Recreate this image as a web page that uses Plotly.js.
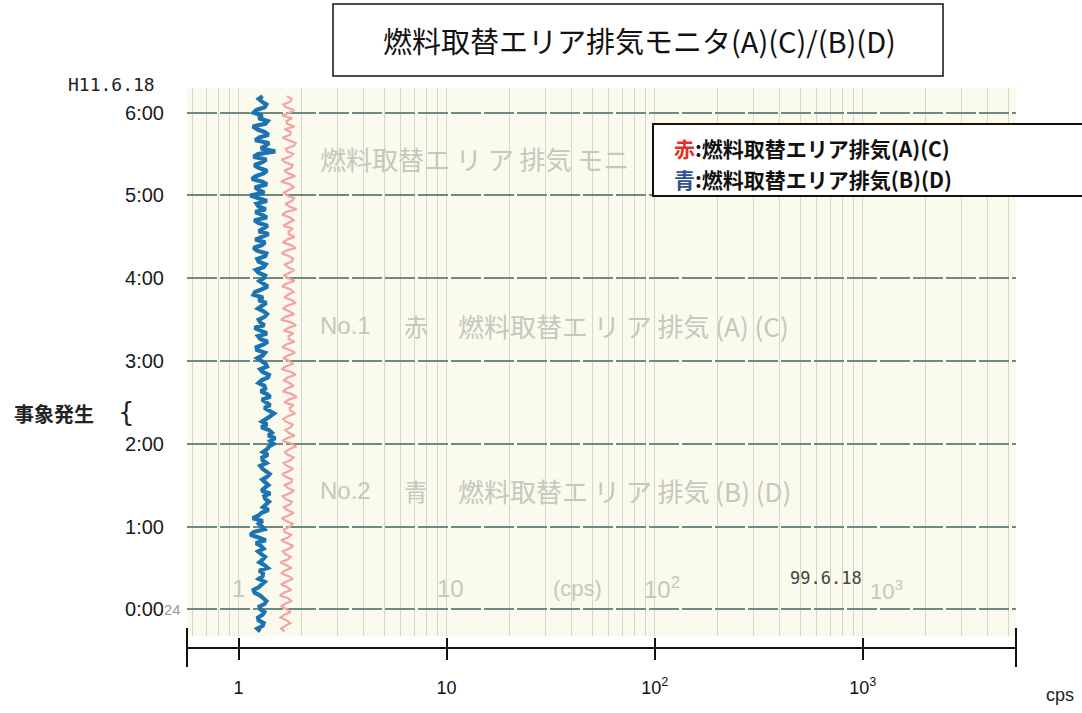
<!DOCTYPE html>
<html>
<head>
<meta charset="utf-8">
<script src="https://cdn.plot.ly/plotly-3.0.1.min.js"></script>
<style>
html,body{margin:0;padding:0;background:#fff;}
#chart{width:1082px;height:713px;}
</style>
</head>
<body>
<div id="chart"></div>
<script>
// ---- data (time in minutes after 0:00 on H11.6.18, count rate in cps) ----
const minutes = [372,370,368,366,364,362,360,358,356,354,352,350,348,346,344,342,340,338,336,334,332,330,328,326,324,322,320,318,316,314,312,310,
  308,306,304,302,300,298,296,294,292,290,288,286,284,282,280,278,276,274,272,270,268,266,264,262,260,258,256,254,252,250,248,246,244,242,
  240,238,236,234,232,230,228,226,224,222,220,218,216,214,212,210,208,206,204,202,200,198,196,194,192,190,188,186,184,182,180,178,176,174,
  172,170,168,166,164,162,160,158,156,154,152,150,148,146,144,142,140,138,136,134,132,130,128,126,124,122,120,118,116,114,112,110,
  108,106,104,102,100,98,96,94,92,90,88,86,84,82,80,78,76,74,72,70,68,66,64,62,60,58,56,54,52,50,48,46,44,42,40,38,36,34,32,30,
  28,26,24,22,20,18,16,14,12,10,8,6,4,2,0,-2,-4,-6,-8,-10,-12,-14,-16];

const blueCps = [1.305,1.25,1.295,1.36,1.334,1.22,1.181,1.30,1.248,1.38,1.344,1.17,1.226,1.33,1.394,1.26,1.203,1.40,1.344,1.28,1.501,1.24,1.181,1.36,1.295,1.19,1.248,1.37,1.319,1.21,1.159,1.30,
  1.369,1.20,1.248,1.33,1.138,1.27,1.369,1.22,1.248,1.35,1.203,1.30,1.369,1.19,1.248,1.38,1.319,1.25,1.394,1.29,1.203,1.34,1.295,1.18,1.226,1.36,1.344,1.23,1.248,1.35,1.319,1.21,1.248,1.34,
  1.319,1.26,1.334,1.38,1.295,1.20,1.181,1.31,1.248,1.36,1.295,1.24,1.319,1.37,1.334,1.25,1.271,1.33,1.194,1.28,1.369,1.24,1.271,1.38,1.319,1.22,1.226,1.34,1.305,1.23,1.286,1.35,1.369,1.27,
  1.305,1.40,1.384,1.29,1.248,1.33,1.344,1.28,1.369,1.42,1.295,1.36,1.420,1.33,1.420,1.48,1.420,1.34,1.295,1.37,1.286,1.40,1.447,1.39,1.501,1.42,1.474,1.40,1.369,1.31,1.384,1.30,
  1.305,1.36,1.271,1.30,1.344,1.41,1.369,1.30,1.344,1.39,1.334,1.29,1.420,1.33,1.344,1.40,1.354,1.31,1.394,1.29,1.248,1.17,1.305,1.25,1.295,1.33,1.181,1.14,1.248,1.35,1.212,1.28,1.319,1.24,1.286,1.34,1.305,1.26,1.334,1.38,
  1.257,1.31,1.305,1.25,1.334,1.29,1.248,1.18,1.194,1.27,1.305,1.36,1.334,1.26,1.271,1.33,1.305,1.24,1.248,1.32,1.305,1.23,1.271];

const redCps = [1.708,1.80,1.772,1.64,1.689,1.85,1.753,1.62,1.805,1.70,1.708,1.86,1.664,1.78,1.772,1.63,1.740,1.88,1.838,1.69,1.708,1.83,1.759,1.61,1.677,1.82,1.792,1.66,1.727,1.87,1.702,1.60,
  1.778,1.84,1.740,1.65,1.714,1.85,1.805,1.68,1.753,1.90,1.689,1.62,1.772,1.84,1.727,1.64,1.825,1.74,1.740,1.86,1.708,1.63,1.785,1.88,1.695,1.61,1.753,1.83,1.798,1.67,1.721,1.85,1.759,1.65,
  1.740,1.86,1.689,1.62,1.772,1.84,1.727,1.66,1.805,1.88,1.708,1.63,1.753,1.85,1.677,1.60,1.785,1.89,1.727,1.65,1.838,1.74,1.740,1.86,1.695,1.62,1.772,1.87,1.727,1.64,1.753,1.83,1.677,1.61,
  1.792,1.88,1.721,1.65,1.759,1.84,1.708,1.63,1.805,1.90,1.740,1.66,1.838,1.76,1.772,1.87,1.727,1.64,1.689,1.82,1.785,1.68,1.740,1.86,1.708,1.62,1.805,1.88,1.753,1.67,1.727,1.84,
  1.772,1.65,1.708,1.83,1.740,1.62,1.689,1.81,1.792,1.66,1.727,1.85,1.753,1.63,1.677,1.80,1.772,1.64,1.714,1.84,1.740,1.61,1.695,1.82,1.772,1.65,1.664,1.79,1.727,1.60,1.708,1.83,1.753,1.63,1.677,1.78,1.721,1.59,1.695,1.80,
  1.664,1.61,1.740,1.82,1.689,1.60,1.714,1.79,1.646,1.58,1.727,1.80,1.677,1.60,1.708,1.78,1.658,1.59,1.702,1.77,1.677,1.60,1.664];

const gridCps = [0.6,0.7,0.8,0.9,1,2,3,4,5,6,7,8,9,10,20,30,40,50,60,70,80,90,100,200,300,400,500,600,700,800,900,1000,2000,3000,4000,5000];
const xTickVals = [1,10,100,1000];
const xTickText = ['1','10','10<sup>2</sup>','10<sup>3</sup>'];
const yTickVals = [0,60,120,180,240,300,360];
const yTickText = ['0:00','1:00','2:00','3:00','4:00','5:00','6:00'];

const titleText = '燃料取替エリア排気モニタ(A)(C)/(B)(D)';
const legendRed = '燃料取替エリア排気(A)(C)';
const legendBlue = '燃料取替エリア排気(B)(D)';

// ---- layout helpers (pixel -> paper fraction) ----
const L = 187, R = 1016, T = 88, B = 648;
const px = x => (x - L) / (R - L);
const py = y => (B - y) / (B - T);

const xRange = [-0.248, 3.737];
const CJK = 'Noto Sans CJK JP, sans-serif';
const SANS = 'Liberation Sans, Arial, sans-serif';
const ghost = '#c6c7bd';

const traces = [
  {x: redCps, y: minutes, type: 'scatter', mode: 'lines', xaxis: 'x', yaxis: 'y',
   line: {color: '#f4a2a4', width: 2.2}, hoverinfo: 'skip'},
  {x: blueCps, y: minutes, type: 'scatter', mode: 'lines', xaxis: 'x', yaxis: 'y',
   line: {color: '#1b73b2', width: 4.2}, hoverinfo: 'skip'},
  // invisible carriers so the scale axes are drawn
  {x: xTickVals, y: [0,0,0,0], type: 'scatter', mode: 'markers', xaxis: 'x2', yaxis: 'y',
   marker: {opacity: 0}, hoverinfo: 'skip'},
  {x: xTickVals, y: [0,0,0,0], type: 'scatter', mode: 'markers', xaxis: 'x3', yaxis: 'y',
   marker: {opacity: 0}, hoverinfo: 'skip'}
];

function ann(text, x, y, opts) {
  return Object.assign({text: text, x: px(x), y: py(y), xref: 'paper', yref: 'paper',
    showarrow: false, xanchor: 'left', yanchor: 'middle'}, opts || {});
}

const annotations = [
  // faint printed text on the recorder paper
  ann('燃料取替エ リ ア 排気 モニ', 318, 158, {font: {family: CJK, size: 26, color: ghost}}),
  ann('No.1', 318, 325, {font: {family: SANS, size: 24, color: ghost}}),
  ann('赤', 402, 325, {font: {family: CJK, size: 24, color: ghost}}),
  ann('燃料取替エ リ ア 排気 (A) (C)', 456, 325, {font: {family: CJK, size: 26, color: ghost}}),
  ann('No.2', 318, 490, {font: {family: SANS, size: 24, color: ghost}}),
  ann('青', 402, 490, {font: {family: CJK, size: 24, color: ghost}}),
  ann('燃料取替エ リ ア 排気 (B) (D)', 456, 490, {font: {family: CJK, size: 26, color: ghost}}),
  ann('1', 238, 588, {xanchor: 'center', font: {family: SANS, size: 24, color: ghost}}),
  ann('10', 450, 588, {xanchor: 'center', font: {family: SANS, size: 24, color: ghost}}),
  ann('(cps)', 577, 588, {xanchor: 'center', font: {family: SANS, size: 22, color: ghost}}),
  ann('10<sup>2</sup>', 662, 588, {xanchor: 'center', font: {family: SANS, size: 24, color: ghost}}),
  ann('10<sup>3</sup>', 868, 590, {xanchor: 'left', font: {family: SANS, size: 22, color: ghost}}),
  ann('99.6.18', 826, 578, {xanchor: 'center', font: {family: 'DejaVu Sans Mono', size: 17, color: '#444'}}),
  ann('24', 162, 609, {font: {family: SANS, size: 15, color: '#9c978c'}}),
  // outer labels
  ann('H11.6.18', 66, 84, {font: {family: 'DejaVu Sans Mono', size: 18, color: '#222'}}),
  ann('<b>事象発生</b>', 12, 414, {font: {family: CJK, size: 20, color: '#222'}}),
  ann('{', 116, 412, {font: {family: 'DejaVu Sans', size: 26, color: '#222'}}),
  ann('cps', 1060, 695, {xanchor: 'center', font: {family: SANS, size: 18, color: '#222'}}),
  // title
  ann(titleText, 639, 40, {xanchor: 'center', font: {family: CJK, size: 29, color: '#111'}}),
  // legend
  ann('<b><span style="color:#e4302a">赤</span>:' + legendRed + '</b>', 672, 148, {font: {family: CJK, size: 21, color: '#111'}}),
  ann('<b><span style="color:#2e5189">青</span>:' + legendBlue + '</b>', 672, 179, {font: {family: CJK, size: 21, color: '#111'}})
];

const shapes = [
  {type: 'rect', xref: 'paper', yref: 'paper', x0: px(333), x1: px(943), y0: py(76), y1: py(4),
   line: {color: '#111', width: 1.5}, fillcolor: 'rgba(0,0,0,0)'},
  {type: 'rect', xref: 'paper', yref: 'paper', x0: px(653), x1: px(1090), y0: py(196), y1: py(124),
   line: {color: '#111', width: 2}, fillcolor: '#ffffff', layer: 'above'},
  // long end ticks of the scale
  {type: 'line', xref: 'paper', yref: 'paper', x0: 0, x1: 0, y0: py(628), y1: py(667), line: {color: '#111', width: 2}},
  {type: 'line', xref: 'paper', yref: 'paper', x0: 1, x1: 1, y0: py(628), y1: py(667), line: {color: '#111', width: 2}}
];

const layout = {
  width: 1082, height: 713,
  margin: {l: L, r: 1082 - R, t: T, b: 713 - B, pad: 0},
  paper_bgcolor: '#ffffff',
  plot_bgcolor: '#fafbec',
  showlegend: false,
  xaxis: {type: 'log', range: xRange, domain: [0, 1], anchor: 'y',
    tickmode: 'array', tickvals: gridCps, showticklabels: false, ticks: '',
    showgrid: true, gridcolor: '#d6d7ca', gridwidth: 1, showline: false, zeroline: false, fixedrange: true},
  xaxis2: {type: 'log', range: xRange, autorange: false, overlaying: 'x', anchor: 'free', position: 0, side: 'bottom',
    tickmode: 'array', tickvals: xTickVals, ticktext: xTickText,
    ticks: 'outside', ticklen: 11, tickwidth: 2, tickcolor: '#111',
    showline: true, linecolor: '#111', linewidth: 2, showgrid: false, zeroline: false,
    ticklabelstandoff: 12,
    tickfont: {family: 'Liberation Sans', size: 18, color: '#111'}},
  xaxis3: {type: 'log', range: xRange, autorange: false, overlaying: 'x', anchor: 'free', position: 0, side: 'bottom',
    tickmode: 'array', tickvals: xTickVals, showticklabels: false,
    ticks: 'inside', ticklen: 10, tickwidth: 2, tickcolor: '#111',
    showline: false, showgrid: false, zeroline: false},
  yaxis: {range: [-19.36, 377.9], autorange: false, domain: [py(636), 1], anchor: 'x',
    tickmode: 'array', tickvals: yTickVals, ticktext: yTickText, ticks: '',
    showgrid: true, gridcolor: '#6e8a82', gridwidth: 2, griddash: '30px,3px',
    zeroline: false, showline: false, ticklabelstandoff: 22,
    tickfont: {family: SANS, size: 20, color: '#1a1a1a'}},
  annotations: annotations,
  shapes: shapes
};

Plotly.newPlot('chart', traces, layout, {staticPlot: true, displayModeBar: false});
</script>
</body>
</html>
